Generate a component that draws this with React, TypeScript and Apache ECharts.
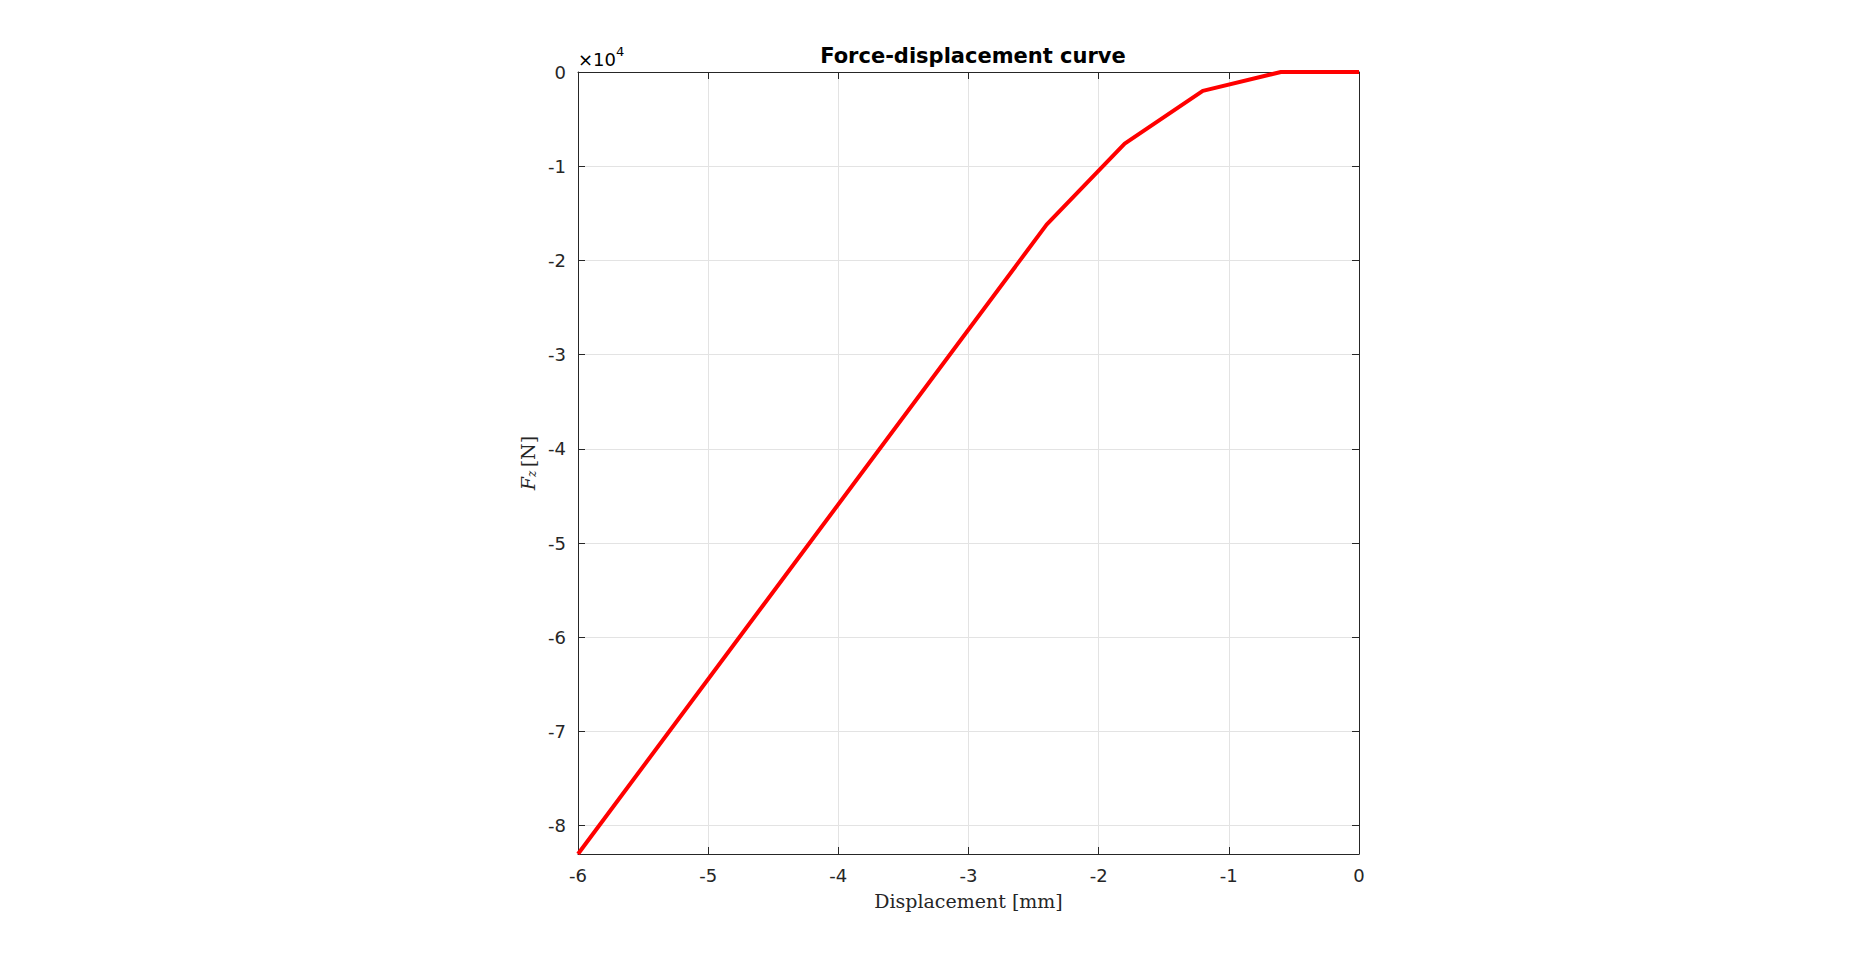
import React, { useEffect, useRef } from "react";
import * as echarts from "echarts";

const displacement = [-6, -2.4, -1.8, -1.2, -0.6, 0];
const force = [-83000, -16200, -7600, -2000, 0, 0];
const yTicks = [-80000, -70000, -60000, -50000, -40000, -30000, -20000, -10000, 0];
const xTicks = [-6, -5, -4, -3, -2, -1, 0];

export default function App() {
  const ref = useRef<HTMLDivElement>(null);
  useEffect(() => {
    const chart = echarts.init(ref.current!, null, { renderer: "svg" });
    const font = "DejaVu Sans";
    const axisLine = { show: true, onZero: false, lineStyle: { color: "#262626", width: 1 } };
    const tick = { show: true, inside: true, length: 7, lineStyle: { color: "#262626" } };
    const split = { show: true, lineStyle: { color: "#e3e3e3", width: 1 } };
    chart.setOption({
      animation: false,
      backgroundColor: "#fff",
      title: {
        text: "Force-displacement curve",
        left: 968,
        top: 40,
        textAlign: "center",
        textStyle: { fontFamily: font, fontWeight: "bold", fontSize: 21, color: "#000" },
      },
      graphic: [
        {
          type: "text",
          left: 578,
          top: 45,
          style: {
            text: "{a|×10}{b|4}",
            rich: {
              a: { fontFamily: font, fontSize: 18, color: "#262626", verticalAlign: "bottom" },
              b: { fontFamily: font, fontSize: 13, color: "#262626", verticalAlign: "top", padding: [0, 0, 10, 0] },
            },
          },
        },
      ],
      grid: { left: 578, right: 511, top: 72, bottom: 107, containLabel: false },
      xAxis: [
        {
          type: "value",
          min: -6,
          max: 0,
          interval: 1,
          axisLine,
          axisTick: tick,
          axisLabel: { fontFamily: font, fontSize: 18, color: "#262626", margin: 12 },
          splitLine: split,
          name: "Displacement [mm]",
          nameLocation: "middle",
          nameGap: 37,
          nameTextStyle: { fontFamily: "DejaVu Serif", fontSize: 19, color: "#262626" },
        },
        {
          type: "value",
          position: "top",
          min: -6,
          max: 0,
          interval: 1,
          axisLine,
          axisTick: tick,
          axisLabel: { show: false },
          splitLine: { show: false },
        },
      ],
      yAxis: [
        {
          type: "value",
          min: -83000,
          max: 0,
          axisLine,
          axisTick: { ...tick, customValues: yTicks },
          axisLabel: {
            fontFamily: font,
            fontSize: 18,
            color: "#262626",
            margin: 12,
            customValues: yTicks,
            formatter: (v: number) => String(Math.round(v / 10000)),
          },
          splitLine: split,
          name: "{f|F}{s|z} {n|[N]}",
          nameLocation: "middle",
          nameGap: 40,
          nameRotate: 90,
          nameTextStyle: {
            rich: {
              f: { fontFamily: "DejaVu Serif", fontStyle: "italic", fontSize: 19, color: "#262626" },
              s: { fontFamily: "DejaVu Serif", fontStyle: "italic", fontSize: 12, color: "#262626", padding: [8, 0, 0, 0] },
              n: { fontFamily: "DejaVu Serif", fontSize: 19, color: "#262626" },
            },
          },
        },
        {
          type: "value",
          position: "right",
          min: -83000,
          max: 0,
          axisLine,
          axisTick: { ...tick, customValues: yTicks },
          axisLabel: { show: false },
          splitLine: { show: false },
        },
      ],
      series: [
        {
          type: "line",
          data: displacement.map((x, i) => [x, force[i]]),
          showSymbol: false,
          lineStyle: { color: "#ff0000", width: 4 },
          clip: false,
        },
      ],
    });
    return () => chart.dispose();
  }, []);
  return <div ref={ref} style={{ position: "fixed", left: 0, top: 0, width: 1870, height: 961 }} />;
}
